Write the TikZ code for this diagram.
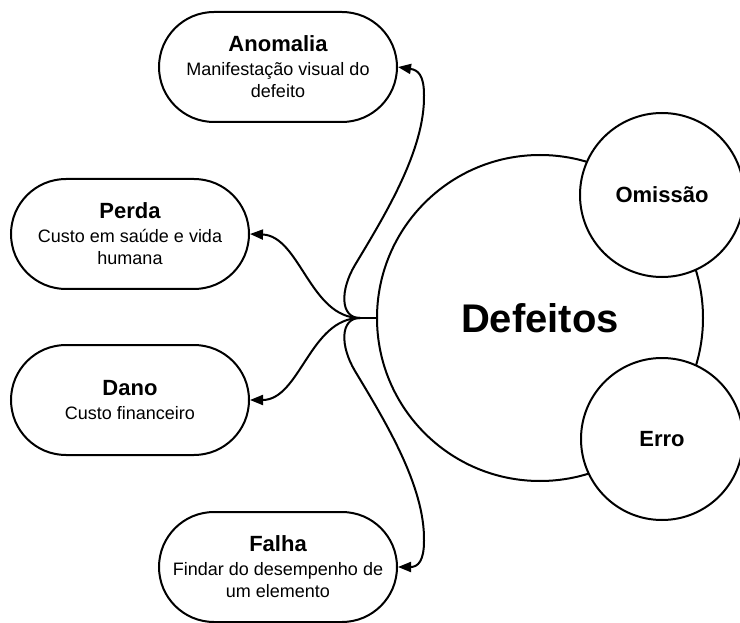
\documentclass[tikz,border=0pt]{standalone}
\usepackage{fontspec}
\setmainfont{Liberation Sans}
\usetikzlibrary{arrows.meta}
\newcommand{\ttl}[1]{{\fontsize{22}{26}\selectfont\bfseries #1}}
\begin{document}
\begin{tikzpicture}[x=1pt,y=-1pt,
  box/.style={draw,line width=2pt,rounded corners=55pt,minimum width=238pt,minimum height=110pt,align=center,inner sep=0pt,font=\fontsize{18}{22}\selectfont},
  ring/.style={draw,line width=2pt,circle,fill=white,inner sep=0pt,font=\fontsize{22}{26}\selectfont\bfseries},
  conn/.style={line width=2pt,-{Triangle[length=13pt,width=10pt]}}]
\useasboundingbox (0,0) rectangle (740,623);
\node[box] (anomalia) at (278,67) {\ttl{Anomalia}\\[2pt]Manifestação visual do\\defeito};
\node[box] (perda) at (130,234) {\ttl{Perda}\\[2pt]Custo em saúde e vida\\humana};
\node[box] (dano) at (130,400) {\ttl{Dano}\\[2pt]Custo financeiro};
\node[box] (falha) at (278,567) {\ttl{Falha}\\[2pt]Findar do desempenho de\\um elemento};
\node[ring,minimum size=326pt,font=\fontsize{40}{44}\selectfont\bfseries] (defeitos) at (540,318) {Defeitos};
\node[ring,minimum size=164pt] (omissao) at (662,195) {Omissão};
\node[ring,minimum size=162pt] (erro) at (662,439) {Erro};
\coordinate (hub) at (360,318);
\draw[line width=2pt] (defeitos.west) -- (hub);
\draw[conn] (hub) .. controls (340,318) and (340,290) .. (355,265) .. controls (385,215) and (425,150) .. (424,95) .. controls (424,75) and (418,70) .. (anomalia.east);
\draw[conn] (hub) .. controls (310,318) and (300,236) .. (perda.east);
\draw[conn] (hub) .. controls (310,318) and (300,400) .. (dano.east);
\draw[conn] (hub) .. controls (340,318) and (340,346) .. (355,371) .. controls (385,421) and (425,486) .. (424,541) .. controls (424,561) and (418,567) .. (falha.east);
\end{tikzpicture}
\end{document}
